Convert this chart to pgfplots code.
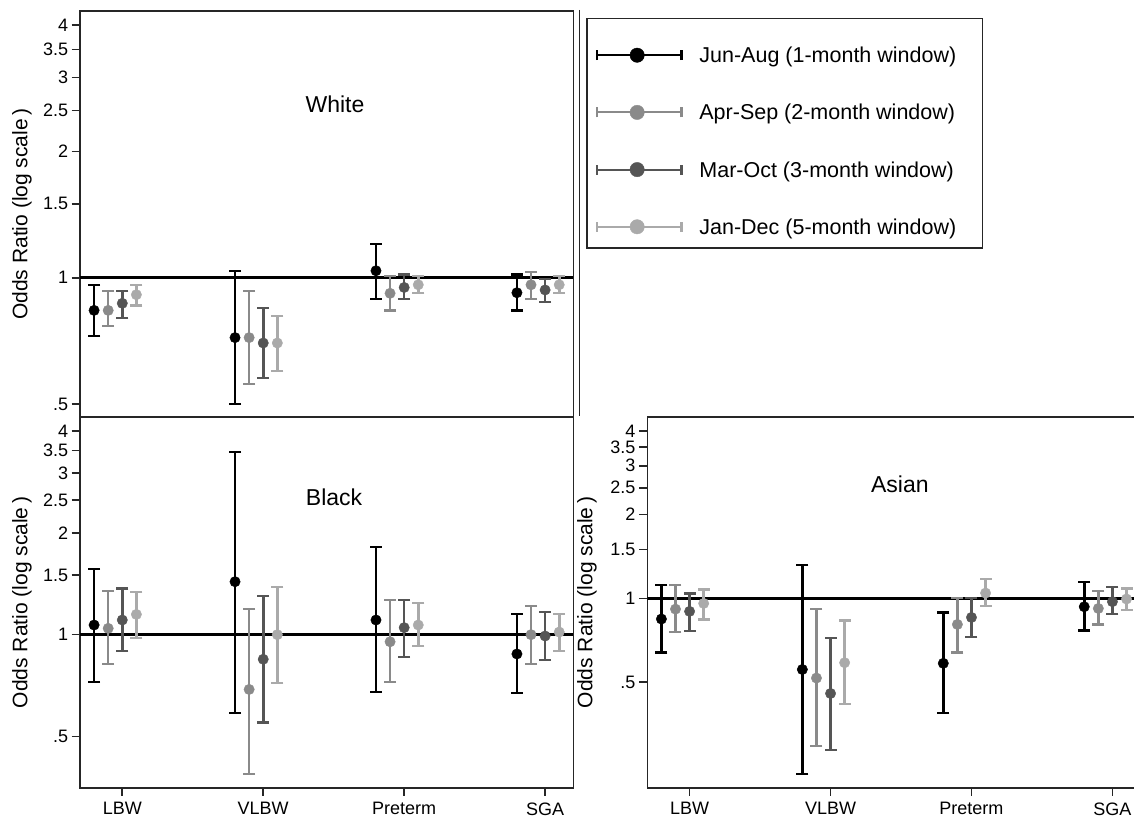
\documentclass[border=0pt]{standalone}
\usepackage{fontspec}
\setmainfont{Liberation Sans}
\usepackage{pgfplots}
\usepackage{pgfplotstable}
\pgfplotsset{compat=1.18}
\definecolor{cA}{RGB}{0,0,0}
\definecolor{cB}{RGB}{138,138,138}
\definecolor{cC}{RGB}{85,85,85}
\definecolor{cD}{RGB}{170,170,170}

% odds ratios: Jun-Aug, Apr-Sep, Mar-Oct, Jan-Dec
\pgfplotstableread{
cat y1 y2 y3 y4
1 0.836 0.836 0.869 0.911
2 0.720 0.720 0.699 0.699
3 1.039 0.918 0.948 0.962
4 0.921 0.962 0.935 0.962
}\ptW
% confidence intervals (lower, upper, break) for each series
\pgfplotstableread{
x1 c1 x2 c2 x3 c3 x4 c4
0.8 0.726 0.9 0.767 1 0.802 1.1 0.859
0.8 0.962 0.9 0.930 1 0.930 1.1 0.962
0.8 nan 0.9 nan 1 nan 1.1 nan
1.8 0.500 1.9 0.559 2 0.578 2.1 0.600
1.8 1.039 1.9 0.930 2 0.848 2.1 0.809
1.8 nan 1.9 nan 2 nan 2.1 nan
2.8 0.890 2.9 0.835 3 0.888 3.1 0.919
2.8 1.205 2.9 1.009 3 1.018 3.1 1.009
2.8 nan 2.9 nan 3 nan 3.1 nan
3.8 0.835 3.9 0.890 4 0.875 4.1 0.919
3.8 1.018 3.9 1.033 4 0.995 4.1 1.009
}\ciW

\pgfplotstableread{
cat y1 y2 y3 y4
1 1.068 1.044 1.105 1.148
2 1.434 0.689 0.846 1.000
3 1.105 0.953 1.049 1.068
4 0.877 1.000 0.991 1.018
}\ptB
\pgfplotstableread{
x1 c1 x2 c2 x3 c3 x4 c4
0.8 0.726 0.9 0.819 1 0.897 1.1 0.975
0.8 1.563 0.9 1.349 1 1.370 1.1 1.337
0.8 nan 0.9 nan 1 nan 1.1 nan
1.8 0.588 1.9 0.388 2 0.550 2.1 0.718
1.8 3.470 1.9 1.193 2 1.304 2.1 1.383
1.8 nan 1.9 nan 2 nan 2.1 nan
2.8 0.677 2.9 0.726 3 0.857 3.1 0.928
2.8 1.816 2.9 1.269 3 1.269 3.1 1.238
2.8 nan 2.9 nan 3 nan 3.1 nan
3.8 0.671 3.9 0.819 4 0.844 4.1 0.897
3.8 1.154 3.9 1.215 4 1.164 4.1 1.154
}\ciB

\pgfplotstableread{
cat y1 y2 y3 y4
1 0.843 0.915 0.898 0.959
2 0.555 0.517 0.455 0.587
3 0.584 0.806 0.854 1.045
4 0.933 0.920 0.973 0.995
}\ptA
\pgfplotstableread{
x1 c1 x2 c2 x3 c3 x4 c4
0.8 0.639 0.9 0.759 1 0.765 1.1 0.840
0.8 1.117 0.9 1.117 1 1.042 1.1 1.077
0.8 nan 0.9 nan 1 nan 1.1 nan
1.8 0.233 1.9 0.294 2 0.285 2.1 0.418
1.8 1.318 1.9 0.918 2 0.718 2.1 0.833
1.8 nan 1.9 nan 2 nan 2.1 nan
2.8 0.388 2.9 0.639 3 0.724 3.1 0.936
2.8 0.890 2.9 1.000 3 1.000 3.1 1.171
2.8 nan 2.9 nan 3 nan 3.1 nan
3.8 0.767 3.9 0.806 4 0.878 4.1 0.908
3.8 1.145 3.9 1.063 4 1.099 4.1 1.086
}\ciA

\newcommand{\legimg}[1]{%
  \draw[line width=2.1pt, #1] (0pt,0pt) -- (84.3pt,0pt);
  \draw[line width=2.5pt, #1] (0pt,-5pt) -- (0pt,5pt);
  \draw[line width=2.5pt, #1] (84.3pt,-5pt) -- (84.3pt,5pt);
  \fill[#1] (40pt,0pt) circle (7.2pt);
}

\newcommand{\oneseries}[5]{% ci table, point table, color, offset, index
  \addplot[color=#3, line width=2.6pt, mark=-, mark size=6pt,
    mark options={solid, line width=2.2pt}, forget plot]
    table[x=x#5, y=c#5] {#1};
  \addplot[only marks, mark=*, mark size=5.2pt, color=#3,
    mark options={solid, fill=#3, draw=#3},
    legend image code/.code={\legimg{#3}}]
    table[x expr=\thisrow{cat}+#4, y=y#5] {#2};
}

\newcommand{\fourseries}[2]{%
  \addplot[black, line width=2.8pt, forget plot] coordinates {(0.7,1) (4.2,1)};
  \oneseries{#1}{#2}{cA}{-0.2}{1}
  \oneseries{#1}{#2}{cB}{-0.1}{2}
  \oneseries{#1}{#2}{cC}{0}{3}
  \oneseries{#1}{#2}{cD}{0.1}{4}
}

\begin{document}
\begin{tikzpicture}
% Black
\begin{axis}[/pgfplots/ymode=log,
  scale only axis, width=493.3pt, height=370.4pt,
  at={(80pt,33.3pt)}, anchor=south west,
  xmin=0.7, xmax=4.2, ymin=0.353, ymax=4.39,
  ytick={0.5,1,1.5,2,2.5,3,3.5,4},
  yticklabels={.5,1,1.5,2,2.5,3,3.5,4},
  xtick={1,2,3,4}, xticklabels={LBW,VLBW,Preterm,SGA},
  yminorticks=false, xminorticks=false,
  tick align=outside, tick pos=left, major tick length=8.3pt,
  tick style={line width=1.6pt, black!85},
  axis line style={line width=1.6pt, black!85},
  ticklabel style={font=\fontsize{18}{21}\selectfont},
  xticklabel style={yshift=-3pt},
  unbounded coords=jump,
  ylabel={Odds Ratio (log scale\,)},
  ylabel style={font=\fontsize{21}{25}\selectfont, anchor=center, at={(axis description cs:-0.1176,0.5)}},
]
\fourseries{\ciB}{\ptB}
\node[font=\fontsize{23}{27}\selectfont] at (rel axis cs:0.515,0.785) {Black};
\end{axis}
% Asian
\begin{axis}[/pgfplots/ymode=log,
  scale only axis, width=493.3pt, height=370.4pt,
  at={(647.3pt,33.3pt)}, anchor=south west,
  xmin=0.7, xmax=4.2, ymin=0.2085, ymax=4.48,
  ytick={0.5,1,1.5,2,2.5,3,3.5,4},
  yticklabels={.5,1,1.5,2,2.5,3,3.5,4},
  xtick={1,2,3,4}, xticklabels={LBW,VLBW,Preterm,SGA},
  yminorticks=false, xminorticks=false,
  tick align=outside, tick pos=left, major tick length=8.3pt,
  tick style={line width=1.6pt, black!85},
  axis line style={line width=1.6pt, black!85},
  ticklabel style={font=\fontsize{18}{21}\selectfont},
  xticklabel style={yshift=-3pt},
  unbounded coords=jump,
  ylabel={Odds Ratio (log scale\,)},
  ylabel style={font=\fontsize{21}{25}\selectfont, anchor=center, at={(axis description cs:-0.1222,0.5)}},
]
\fourseries{\ciA}{\ptA}
\node[font=\fontsize{23}{27}\selectfont] at (rel axis cs:0.512,0.820) {Asian};
\end{axis}
% White
\begin{axis}[/pgfplots/ymode=log,
  scale only axis, width=493.3pt, height=406.3pt,
  at={(80pt,403.7pt)}, anchor=south west,
  xmin=0.7, xmax=4.2, ymin=0.465, ymax=4.32,
  ytick={0.5,1,1.5,2,2.5,3,3.5,4},
  yticklabels={.5,1,1.5,2,2.5,3,3.5,4},
  xtick=\empty,
  yminorticks=false, xminorticks=false,
  tick align=outside, tick pos=left, major tick length=8.3pt,
  tick style={line width=1.6pt, black!85},
  axis line style={line width=1.6pt, black!85},
  ticklabel style={font=\fontsize{18}{21}\selectfont},
  unbounded coords=jump,
  ylabel={Odds Ratio (log scale\,)},
  ylabel style={font=\fontsize{21}{25}\selectfont, anchor=center, at={(axis description cs:-0.1176,0.5)}},
  legend cell align=left,
  legend style={at={(axis description cs:1.0454,0.9163)}, anchor=north west,
    draw=none, fill=none, inner sep=0pt, row sep=37.2pt, column sep=16.7pt,
    font=\fontsize{21.5}{25}\selectfont,
    nodes={inner sep=0pt, text height=17.5pt, text depth=2.5pt}},
]
\fourseries{\ciW}{\ptW}
\legend{Jun-Aug (1-month window), Apr-Sep (2-month window), Mar-Oct (3-month window), Jan-Dec (5-month window)}
\node[font=\fontsize{23}{27}\selectfont] at (rel axis cs:0.517,0.771) {White};
\end{axis}
% legend frame and separator line
\draw[line width=1.6pt, black!85] (579.3pt,811pt) -- (579.3pt,405pt);
\draw[line width=1.6pt, black!85] (587pt,802.3pt) rectangle (982.6pt,573pt);
\pgfresetboundingbox
\path[use as bounding box] (0pt,0pt) rectangle (1134pt,821pt);
\end{tikzpicture}
\end{document}
